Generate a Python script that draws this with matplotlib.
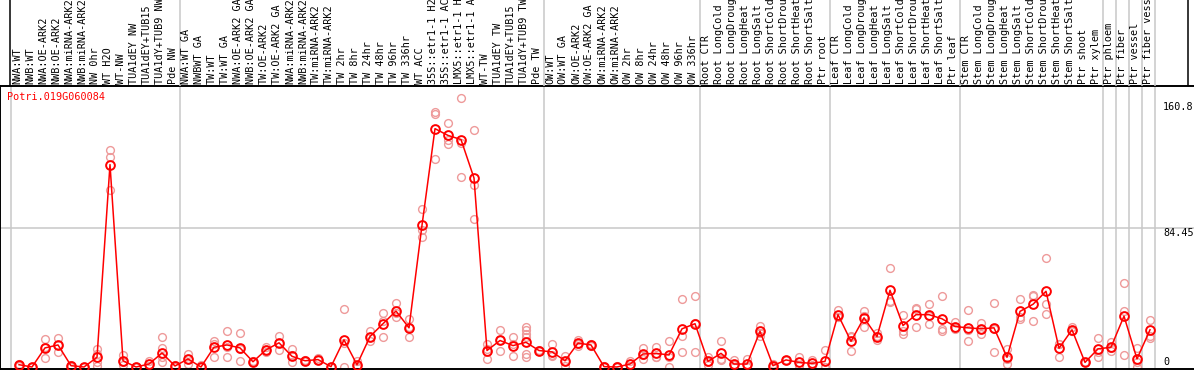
import matplotlib
matplotlib.use('Agg')
import matplotlib.pyplot as plt

# ── data ────────────────────────────────────────────────────────────
gene_id = 'Potri.019G060084'

# sample labels, as far as they are visible in the label strip
labels = [
    'NWA:WT', 'NWB:WT', 'NWA:OE-ARK2', 'NWB:OE-ARK2', 'NWA:miRNA-ARK2',
    'NWB:miRNA-ARK2', 'NW 0hr', 'WT H2O', 'WT-NW', 'TUA1dEY NW',
    'TUA1dEY+TUB15', 'TUA1dY+TUB9 NW', 'Pde NW',
    'NWA:WT GA', 'NWBWT GA', 'TW:WT', 'TW:WT GA', 'NWA:OE-ARK2 GA',
    'NWB:OE-ARK2 GA', 'TW:OE-ARK2', 'TW:OE-ARK2 GA', 'NWA:miRNA-ARK2',
    'NWB:miRNA-ARK2', 'TW:miRNA-ARK2', 'TW:miRNA-ARK2', 'TW 2hr', 'TW 8hr',
    'TW 24hr', 'TW 48hr', 'TW 96hr', 'TW 336hr', 'WT ACC',
    '35S::etr1-1 H2', '35S::etr1-1 AC', 'LMX5::etr1-1 H',
    'LMX5::etr1-1 A', 'WT-TW', 'TUA1dEY TW', 'TUA1dEY+TUB15',
    'TUA1dY+TUB9 TW', 'Pde TW',
    'OW:WT', 'OW:WT GA', 'OW:OE-ARK2', 'OW:OE-ARK2 GA', 'OW:miRNA-ARK2',
    'OW:miRNA-ARK2', 'OW 2hr', 'OW 8hr', 'OW 24hr', 'OW 48hr', 'OW 96hr',
    'OW 336hr',
    'Root CTR', 'Root LongCold', 'Root LongDroug', 'Root LongHeat',
    'Root LongSalt', 'Root ShortCold', 'Root ShortDrou', 'Root ShortHeat',
    'Root ShortSalt', 'Ptr root',
    'Leaf CTR', 'Leaf LongCold', 'Leaf LongDroug', 'Leaf LongHeat',
    'Leaf LongSalt', 'Leaf ShortCold', 'Leaf ShortDrou', 'Leaf ShortHeat',
    'Leaf ShortSalt', 'Ptr leaf',
    'Stem CTR', 'Stem LongCold', 'Stem LongDroug', 'Stem LongHeat',
    'Stem LongSalt', 'Stem ShortCold', 'Stem ShortDrou', 'Stem ShortHeat',
    'Stem ShortSalt', 'Ptr shoot', 'Ptr xylem',
    'Ptr phloem', 'Ptr fiber', 'Ptr vessel', 'Ptr fiber vess',
]

# index of the first sample in each group (last entry = end)
group_starts = [0, 13, 41, 53, 63, 73, 84, 85, 86, 87, 88]

means = [
    1.4, 0.0, 11.6, 13.4, 0.8, 0.0, 5.9, 123.0, 3.8, 0.0,
    1.8, 8.5, 0.6, 4.9, 0.0, 12.0, 13.4, 11.6, 3.2, 10.4,
    14.7, 6.5, 3.8, 4.5, 0.2, 16.5, 1.4, 18.5, 26.3, 34.0,
    23.8, 86.1, 144.8, 140.7, 138.2, 114.8, 10.0, 16.1, 13.0, 15.0,
    10.0, 9.2, 3.8, 14.5, 13.4, 0.2, 0.0, 1.8, 7.9, 8.3,
    7.3, 23.2, 26.3, 3.4, 8.3, 1.8, 1.8, 21.7, 0.8, 4.3,
    2.8, 2.2, 3.4, 31.8, 15.6, 29.9, 18.5, 46.6, 25.2, 31.8,
    31.8, 29.3, 24.6, 23.8, 23.2, 23.8, 5.9, 33.8, 38.1, 46.0,
    11.4, 22.6, 2.8, 11.0, 12.0, 30.9, 4.9, 22.6,
]

replicates = [
    [2.0, 1.0, 0.8], [0.3, 0.0, 0.0], [17.0, 5.5, 12.3], [17.7, 8.9, 13.6],
    [1.5, 0.0, 0.9], [0.0, 0.0, 0.0], [11.0, 7.9, 2.8, 0.8],
    [132.0, 127.4, 107.7], [7.3, 2.8, 1.3], [0.0, 0.0, 0.0],
    [3.8, 0.8, 0.8], [18.5, 11.4, 5.9, 2.8], [1.0, 0.5, 0.3],
    [7.9, 1.8, 5.0], [1.4, 0.0, 0.0], [16.0, 6.3, 13.7], [21.7, 6.3, 12.2],
    [20.5, 3.4, 10.9], [3.5, 3.0, 3.1], [12.0, 8.9, 10.3], [19.1, 10.6, 14.4],
    [10.8, 2.8, 7.1], [4.5, 3.5, 3.4], [5.5, 4.0, 4.0], [0.3, 0.0, 0.3],
    [35.0, 0.2, 14.3], [3.6, 0.3, 0.3], [21.7, 15.6, 18.2], [32.7, 18.1, 28.0],
    [38.9, 30.3, 32.8], [29.3, 18.1, 24.0], [95.9, 83.3, 79.2],
    [154.9, 153.5, 126.4], [148.4, 138.2, 135.2], [163.7, 136.2, 115.5],
    [143.9, 110.7, 89.8], [14.0, 4.9, 11.1], [22.2, 10.0, 16.1],
    [18.5, 6.5, 14.0], [24.2, 22.2, 20.2, 18.1, 7.9, 5.9], [10.5, 9.8, 9.7],
    [14.0, 6.5, 7.1], [6.9, 0.8, 3.7], [16.1, 14.0, 13.0], [14.0, 13.0, 13.2],
    [0.5, 0.0, 0.0], [0.8, 0.0, 0.0], [3.8, 0.8, 0.8], [11.4, 4.9, 7.4],
    [12.4, 6.3, 6.2], [15.6, 0.0, 6.3], [41.5, 19.1, 9.3], [42.9, 9.3, 26.7],
    [5.9, 2.8, 1.5], [15.6, 4.9, 4.4], [4.3, 0.0, 1.1], [4.9, 0.0, 0.5],
    [25.2, 19.1, 20.8], [2.0, 0.2, 0.2], [4.5, 4.0, 4.4], [6.3, 0.8, 1.3],
    [4.3, 0.8, 1.5], [10.4, 0.0, 0.0], [34.8, 30.3, 30.3], [18.5, 9.5, 18.8],
    [34.0, 24.6, 31.1], [20.5, 16.1, 18.9], [59.9, 39.5, 40.4],
    [31.8, 21.7, 20.2], [35.4, 24.2, 35.8], [38.1, 26.3, 31.0],
    [42.9, 23.2, 21.7], [27.2, 23.2, 23.4], [34.4, 22.2, 15.5],
    [26.6, 20.2, 22.8], [39.1, 9.3, 23.0], [11.0, 1.8, 4.9],
    [41.5, 29.3, 30.6], [43.6, 27.7, 43.0], [66.0, 38.1, 32.4],
    [14.0, 6.3, 13.9], [24.0, 22.0, 21.8], [2.8, 2.8, 2.8], [17.7, 6.3, 9.0],
    [15.0, 9.5, 11.5], [51.3, 34.0, 7.5], [11.6, 0.0, 3.1], [28.8, 19.1, 17.7],
]

y_ticks = [0, 84.45, 160.8]
y_tick_labels = ['0', '84.45', '160.8']

# ── figure layout (pixel based) ─────────────────────────────────────
W, H = 1194, 370
LABEL_H = 86          # height of the rotated-label strip
PLOT_BOTTOM = 1       # bottom spine row from the image bottom
X0, DX = 19, 13       # pixel x of first sample, sample spacing
Y0, PX_PER = 367, 1.646  # pixel y of value 0, pixels per unit

FONT = 'DejaVu Sans Mono'
FS = 7.3
REP_COLOR = '#ee9a9a'
LINE_COLOR = '#ff0000'
GRID = '#c8c8c8'

fig = plt.figure(figsize=(W / 100, H / 100), dpi=100)

xlim = ((0 - X0) / DX, (W - X0) / DX)

# plot axes
ax = fig.add_axes([0, PLOT_BOTTOM / H, 1, (H - LABEL_H - PLOT_BOTTOM) / H])
ylo = -((H - PLOT_BOTTOM) - Y0) / PX_PER
yhi = (Y0 - LABEL_H) / PX_PER
ax.set_xlim(*xlim)
ax.set_ylim(ylo, yhi)
for side in ['top', 'left', 'bottom']:
    ax.spines[side].set_linewidth(1.4)
    ax.spines[side].set_color('black')
ax.spines['right'].set_visible(False)
ax.set_xticks([])
ax.set_yticks([])

# vertical group separators + the middle value line
for s in group_starts:
    ax.axvline(s - 0.6, color=GRID, lw=1.1, zorder=0)
ax.axhline(y_ticks[1], color=GRID, lw=1.1, zorder=0)

# replicates
for i, reps in enumerate(replicates):
    ax.plot([i] * len(reps), reps, 'o', ms=5.6, mfc='none', mec=REP_COLOR,
            mew=1.0, zorder=2, clip_on=False)

# mean profile
xs = list(range(len(means)))
ax.plot(xs, means, '-', color=LINE_COLOR, lw=1.1, zorder=3)
ax.plot(xs, means, 'o', ms=6.3, mfc='none', mec=LINE_COLOR, mew=1.4,
        zorder=4, clip_on=False)

# right-hand value labels
xt = (1163 - X0) / DX
for v, txt, va in zip(y_ticks, y_tick_labels, ['bottom', 'top', 'top']):
    ax.text(xt, v, txt, fontsize=FS, family=FONT, va=va, ha='left')

fig.text(7 / W, 1 - 92 / H, gene_id, color='red', fontsize=FS, family=FONT,
         va='top', ha='left')

# label strip
lax = fig.add_axes([0, 1 - LABEL_H / H, 1, LABEL_H / H])
lax.set_xlim(*xlim)
lax.set_ylim(0, LABEL_H)
lax.axis('off')
for s in group_starts[1:]:
    lax.axvline(s - 0.6, color=GRID, lw=1.1, zorder=0)
lax.axvline((10 - X0) / DX, color='black', lw=1.1)
lax.axvline((1188 - X0) / DX, color='black', lw=1.1)
for i, lab in enumerate(labels):
    lax.text(i - 0.15, 2, lab, rotation=90, ha='center', va='bottom',
             fontsize=FS, family=FONT, clip_on=True)

fig.savefig('out.png', dpi=100)
